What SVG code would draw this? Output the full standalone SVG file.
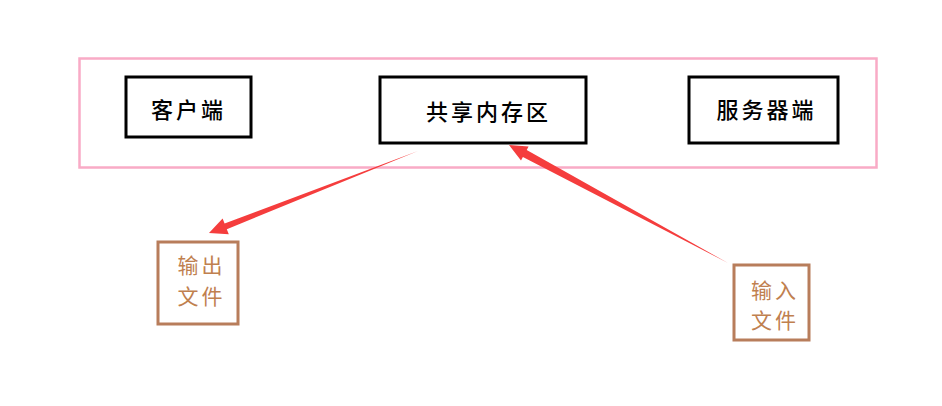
<svg xmlns="http://www.w3.org/2000/svg" width="942" height="406" viewBox="0 0 942 406">
<style>
.frame{fill:none;stroke:#f9abc6;stroke-width:2.5}
.box{fill:#fff;stroke:#000;stroke-width:3}
.file{fill:#fff;stroke:#b87d5b;stroke-width:3}
.lbl{font-family:"Noto Sans CJK SC","Noto Sans CJK JP",sans-serif;font-size:22px;font-weight:500;fill:#000;text-anchor:middle;dominant-baseline:central;letter-spacing:3px}
.flbl{font-family:"Noto Sans CJK SC","Noto Sans CJK JP",sans-serif;font-size:21px;fill:#c0804f;text-anchor:middle;dominant-baseline:central;letter-spacing:3px}
.arrow{fill:#f53d3d}
</style>
<rect width="942" height="406" fill="#fff"/>
<g id="frame"><rect class="frame" x="79.5" y="58.5" width="797" height="109"/></g>
<g id="client"><rect class="box" x="126" y="77" width="125" height="60"/><text class="lbl" x="188.5" y="108">客户端</text></g>
<g id="shared"><rect class="box" x="380" y="77" width="206" height="66"/><text class="lbl" x="488.5" y="110">共享内存区</text></g>
<g id="server"><rect class="box" x="689" y="77" width="149" height="66"/><text class="lbl" x="766.5" y="108">服务器端</text></g>
<g id="outfile"><rect class="file" x="158" y="242" width="80" height="82"/><text class="flbl" x="201.5" y="264">输出</text><text class="flbl" x="201.5" y="295">文件</text></g>
<g id="infile"><rect class="file" x="734" y="265" width="75" height="75"/><text class="flbl" x="775" y="288.5">输入</text><text class="flbl" x="775" y="319">文件</text></g>
<g id="connectors">
<polygon class="arrow" points="418,151 226.8,229.2 228.8,234.3 209,233 222.6,218.6 224.6,223.6"/>
<polygon class="arrow" points="728,263 526.7,150 528.6,146.5 509,145 521,160.5 522.9,157"/>
</g>
</svg>
